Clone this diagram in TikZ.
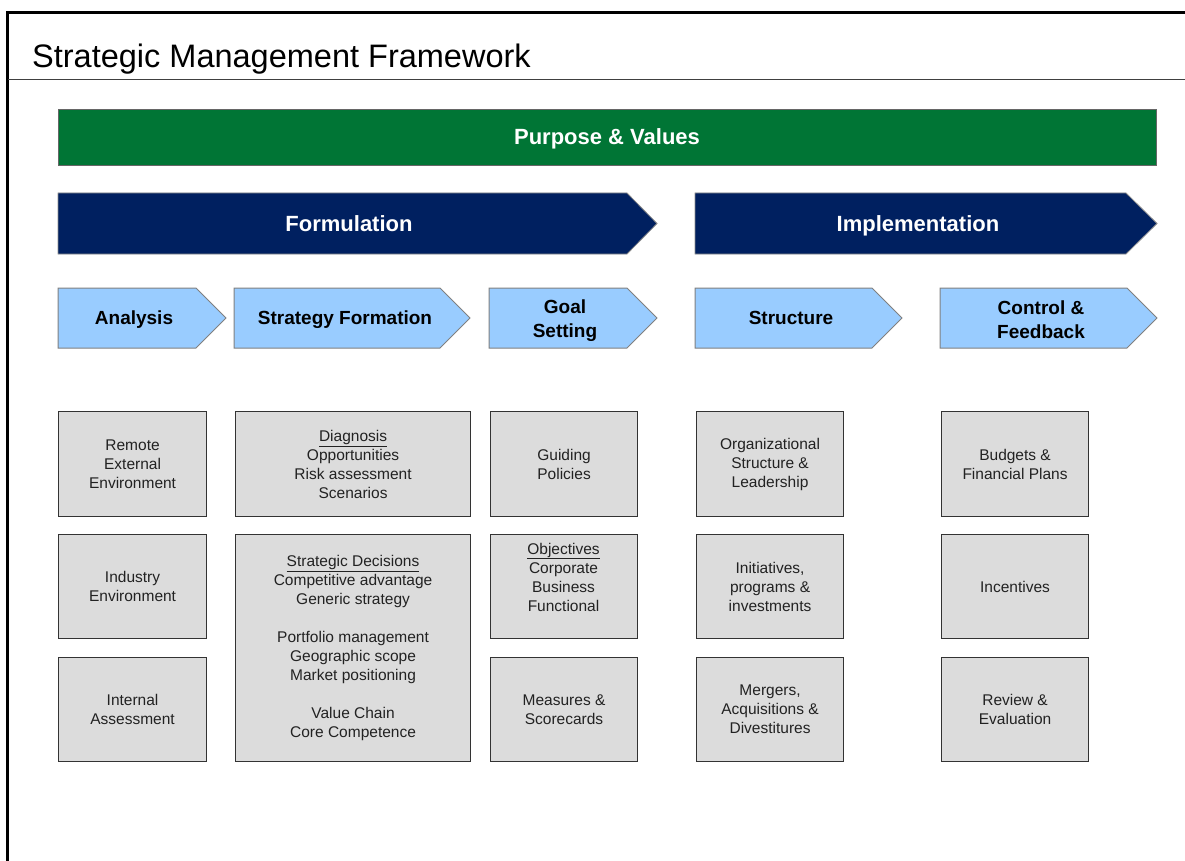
\documentclass[tikz,border=0pt]{standalone}
\usepackage{fontspec}
\setmainfont{Liberation Sans}
\definecolor{pgreen}{HTML}{007535}
\definecolor{navy}{HTML}{002060}
\definecolor{lblue}{HTML}{99CCFF}
\definecolor{gfill}{HTML}{DCDCDC}
\definecolor{btxt}{HTML}{222222}
\begin{document}
\begin{tikzpicture}[x=1pt,y=-1pt,
  frameline/.style={line width=3.5pt, black},
  titleline/.style={line width=1pt, black!75},
  greenbar/.style={draw=black!60, line width=0.8pt, fill=pgreen},
  bigchev/.style={draw=black!45, line width=0.8pt, fill=navy},
  smallchev/.style={draw=black!50, line width=1pt, fill=lblue},
  gbox/.style={draw=black!80, line width=1.1pt, fill=gfill, anchor=north west, inner sep=0pt},
  whitebold/.style={text=white, font=\bfseries\fontsize{22}{26}\selectfont, text height=15.8pt, text depth=0pt},
  chevtext/.style={text=black, align=center, font=\bfseries\fontsize{19}{24}\selectfont},
  chevone/.style={chevtext, text height=13.6pt, text depth=0pt},
  boxtext/.style={text=btxt, align=center, font=\fontsize{15.5}{19}\selectfont}
]
\useasboundingbox (0,0) rectangle (1185,861);

% frame and title
\draw[frameline] (7.5,861) -- (7.5,12.5) -- (1185,12.5);
\draw[titleline] (8,80) -- (1185,80);
\node[anchor=base west, inner sep=0pt, font=\fontsize{32.5}{38}\selectfont] (title) at (32,68) {Strategic Management Framework};

% purpose bar
\node[greenbar, anchor=north west, minimum width=1098pt, minimum height=56pt, inner sep=0pt] (purpose) at (58,109) {};
\node[whitebold] (purposet) at (607,137) {Purpose \& Values};

% big chevrons
\draw[bigchev] (58,193) -- (627,193) -- (657,223.5) -- (627,254) -- (58,254) -- cycle;
\node[whitebold] (form) at (349,224) {Formulation};
\draw[bigchev] (695,193) -- (1126,193) -- (1157,223.5) -- (1126,254) -- (695,254) -- cycle;
\node[whitebold] (impl) at (918,224) {Implementation};

% small chevrons
\draw[smallchev] (58,288) -- (196,288) -- (226,318) -- (196,348) -- (58,348) -- cycle;
\node[chevone] (analysis) at (134,318) {Analysis};
\draw[smallchev] (234,288) -- (440,288) -- (470,318) -- (440,348) -- (234,348) -- cycle;
\node[chevone] (stratform) at (345,318) {Strategy Formation};
\draw[smallchev] (489,288) -- (627,288) -- (657,318) -- (627,348) -- (489,348) -- cycle;
\node[chevtext] (goal) at (565,321) {Goal\\Setting};
\draw[smallchev] (695,288) -- (872,288) -- (902,318) -- (872,348) -- (695,348) -- cycle;
\node[chevone] (structure) at (791,318) {Structure};
\draw[smallchev] (940,288) -- (1127,288) -- (1157,318) -- (1127,348) -- (940,348) -- cycle;
\node[chevtext] (control) at (1041,320) {Control \&\\Feedback};

% column 1
\node[gbox, minimum width=148pt, minimum height=105pt] (b11) at (58,411) {};
\node[boxtext] (t11) at (b11.center) {Remote\\External\\Environment};
\node[gbox, minimum width=148pt, minimum height=104pt] (b12) at (58,534) {};
\node[boxtext] (t12) at (b12.center) {Industry\\Environment};
\node[gbox, minimum width=148pt, minimum height=104pt] (b13) at (58,657) {};
\node[boxtext] (t13) at (b13.center) {Internal\\Assessment};

% column 2
\node[gbox, minimum width=235pt, minimum height=105pt] (b21) at (235,411) {};
\node[boxtext] (t21) at (b21.center) {\underline{Diagnosis}\\Opportunities\\Risk assessment\\Scenarios};
\node[gbox, minimum width=235pt, minimum height=227pt] (b22) at (235,534) {};
\node[boxtext] (t22) at (b22.center) {\underline{Strategic Decisions}\\Competitive advantage\\Generic strategy\\[19pt]Portfolio management\\Geographic scope\\Market positioning\\[19pt]Value Chain\\Core Competence};

% column 3
\node[gbox, minimum width=147pt, minimum height=105pt] (b31) at (490,411) {};
\node[boxtext] (t31) at (b31.center) {Guiding\\Policies};
\node[gbox, minimum width=147pt, minimum height=104pt] (b32) at (490,534) {};
\node[boxtext] (t32) at (563.5,577) {\underline{Objectives}\\Corporate\\Business\\Functional};
\node[gbox, minimum width=147pt, minimum height=104pt] (b33) at (490,657) {};
\node[boxtext] (t33) at (b33.center) {Measures \&\\Scorecards};

% column 4
\node[gbox, minimum width=147pt, minimum height=105pt] (b41) at (696,411) {};
\node[boxtext] (t41) at (b41.center) {Organizational\\Structure \&\\Leadership};
\node[gbox, minimum width=147pt, minimum height=104pt] (b42) at (696,534) {};
\node[boxtext] (t42) at (b42.center) {Initiatives,\\programs \&\\investments};
\node[gbox, minimum width=147pt, minimum height=104pt] (b43) at (696,657) {};
\node[boxtext] (t43) at (b43.center) {Mergers,\\Acquisitions \&\\Divestitures};

% column 5
\node[gbox, minimum width=147pt, minimum height=105pt] (b51) at (941,411) {};
\node[boxtext] (t51) at (b51.center) {Budgets \&\\Financial Plans};
\node[gbox, minimum width=147pt, minimum height=104pt] (b52) at (941,534) {};
\node[boxtext] (t52) at (b52.center) {Incentives};
\node[gbox, minimum width=147pt, minimum height=104pt] (b53) at (941,657) {};
\node[boxtext] (t53) at (b53.center) {Review \&\\Evaluation};
\end{tikzpicture}
\end{document}
